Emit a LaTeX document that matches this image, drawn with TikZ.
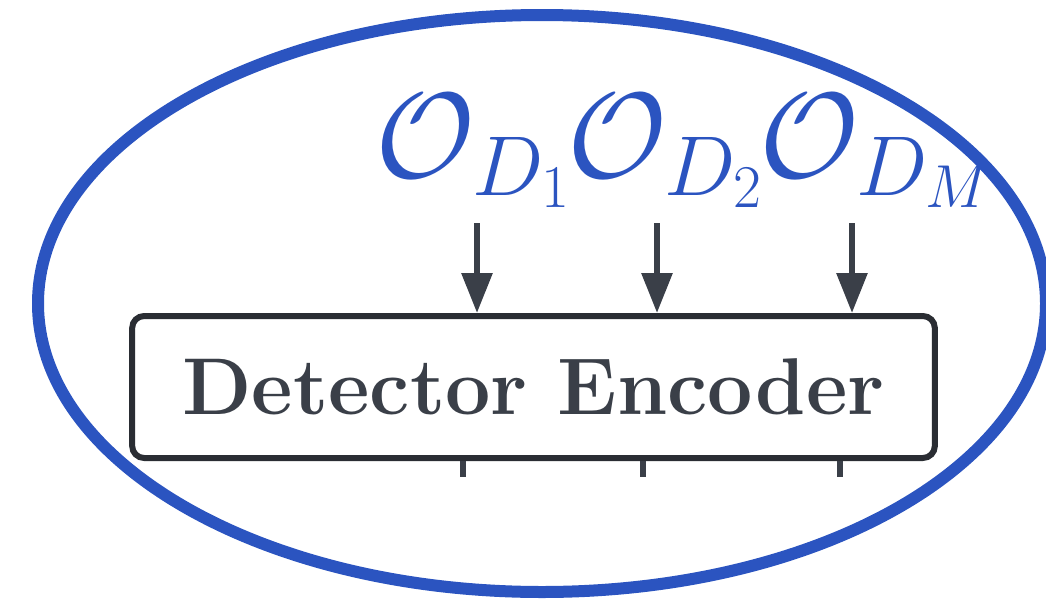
\RequirePackage{fix-cm}
\documentclass[tikz,border=0pt]{standalone}
\usepackage{amsmath}
\usetikzlibrary{arrows.meta}
\definecolor{encBlue}{RGB}{43,84,192}
\definecolor{encGray}{RGB}{58,63,72}
\definecolor{encEdge}{RGB}{42,45,51}
\tikzset{every picture/.style={line width=0.75pt}}
\tikzset{
encbox/.style={draw=encEdge, line width=4.5pt, rounded corners=9pt, fill=white,
  minimum width=602pt, minimum height=106.5pt, inner sep=0pt, text=encGray,
  font=\fontsize{60.4}{70}\selectfont\bfseries},
obslabel/.style={text=encBlue, inner sep=0pt, anchor=base,
  font=\fontsize{91}{100}\selectfont},
inarrow/.style={draw=encGray, line width=4.5pt, -{Triangle[length=30pt,width=22.5pt]}},
outstub/.style={draw=encGray, line width=4.5pt}
}

\begin{document}
\begin{tikzpicture}[x=0.75pt,y=0.75pt,yscale=-1,xscale=1]
\useasboundingbox (0,0) rectangle (1046,600);
\clip (0,0) rectangle (1046,600);

%Shape: Ellipse
\draw [encBlue, line width=9pt] (542,303.5) ellipse (504 and 288.5);

% Encoder box
\node [encbox] (enc) at (533.5,387) {Detector Encoder};

% Text Node
\node [obslabel] (lab1) at (473,177) {$\mathcal{O}_{D_1}$};
% Text Node
\node [obslabel] (lab2) at (665,177) {$\mathcal{O}_{D_2}$};
% Text Node
\node [obslabel] (lab3) at (875,177) {$\mathcal{O}_{D_M}$};

% arrow starts and stub ends
\coordinate (in1) at (477,223);
\coordinate (in2) at (657,223);
\coordinate (in3) at (852,223);
\coordinate (out1) at (463,477);
\coordinate (out2) at (643,477);
\coordinate (out3) at (840,477);

%Straight Lines
\draw [inarrow] (in1) -- (in1 |- enc.north);
\draw [inarrow] (in2) -- (in2 |- enc.north);
\draw [inarrow] (in3) -- (in3 |- enc.north);
%Straight Lines
\draw [outstub] (out1 |- enc.south) -- (out1);
\draw [outstub] (out2 |- enc.south) -- (out2);
\draw [outstub] (out3 |- enc.south) -- (out3);

\end{tikzpicture}
\end{document}
